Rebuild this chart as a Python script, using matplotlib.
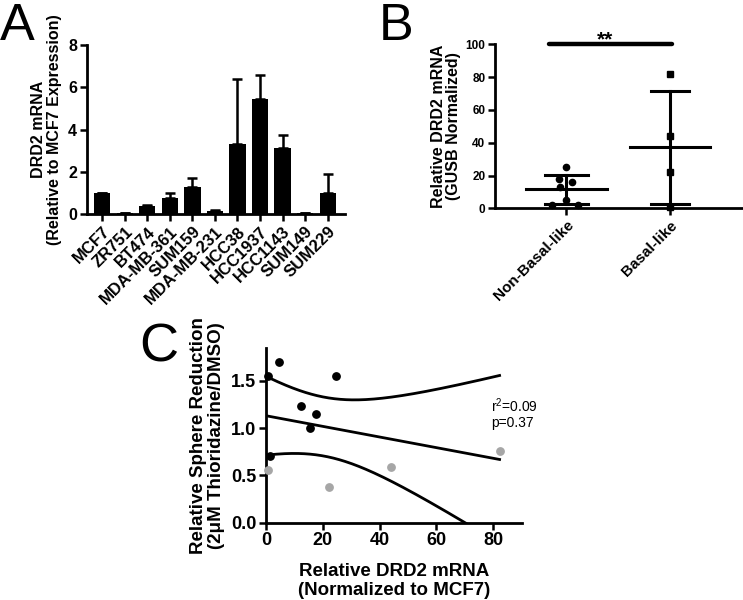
import numpy as np
import matplotlib
matplotlib.use("Agg")
from matplotlib import pyplot as plt

plt.rcParams['font.family'] = ['Liberation Sans', 'DejaVu Sans']
plt.rcParams['mathtext.fontset'] = 'custom'
plt.rcParams['mathtext.rm'] = 'Liberation Sans'
plt.rcParams['mathtext.it'] = 'Liberation Sans:italic'
plt.rcParams['mathtext.bf'] = 'Liberation Sans:bold'

# Panel A : DRD2 mRNA by cell line
cell_lines = ['MCF7', 'ZR751', 'BT474', 'MDA-MB-361', 'SUM159', 'MDA-MB-231',
              'HCC38', 'HCC1937', 'HCC1143', 'SUM149', 'SUM229']
expr_mean = [1.0, 0.05, 0.37, 0.76, 1.30, 0.15, 3.31, 5.43, 3.15, 0.05, 1.02]
expr_err = [0.0, 0.02, 0.06, 0.26, 0.43, 0.06, 3.07, 1.15, 0.60, 0.02, 0.87]

# Panel B : GUSB normalized DRD2 by subtype
groups = ['Non-Basal-like', 'Basal-like']
non_basal = [25, 18, 16, 13, 5, 2, 2]
basal = [82, 44, 22, 1]

# Panel C : sphere reduction vs DRD2
drd2_nonbasal = [0.8, 4.7, 24.6, 12.3, 17.5, 15.4, 1.4]
sphere_nonbasal = [1.55, 1.70, 1.55, 1.235, 1.15, 1.00, 0.706]
drd2_basal = [0.8, 22.3, 44.0, 82.2]
sphere_basal = [0.557, 0.374, 0.593, 0.762]
p_value = 0.37
t_crit = 2.262  # t(0.975, df=9)

fig = plt.figure(figsize=(7.43, 6.0), dpi=100)

def style_axes(ax, tick_size):
    for s in ['top', 'right']:
        ax.spines[s].set_visible(False)
    for s in ['left', 'bottom']:
        ax.spines[s].set_linewidth(2.0)
    ax.tick_params(width=1.8, length=5, labelsize=tick_size, pad=2)
    for lab in ax.get_xticklabels() + ax.get_yticklabels():
        lab.set_fontweight('bold')

# ---- A ----
axA = fig.add_axes([0.1167, 0.6428, 0.3476, 0.2822])
xa = np.arange(len(cell_lines))
axA.bar(xa, expr_mean, width=0.72, color='black')
axA.errorbar(xa, expr_mean, yerr=[np.zeros(len(xa)), expr_err], fmt='none',
             ecolor='black', elinewidth=1.8, capsize=3.6, capthick=1.8)
axA.set_xlim(-0.69, len(cell_lines) - 1 + 0.77)
axA.set_ylim(0, 8)
axA.set_yticks([0, 2, 4, 6, 8])
axA.set_xticks(xa)
axA.set_xticklabels(cell_lines, rotation=45, ha='right', rotation_mode='anchor')
style_axes(axA, 11.5)
for lab in axA.get_xticklabels():
    lab.set_fontsize(12)
axA.set_ylabel('DRD2 mRNA\n(Relative to MCF7 Expression)', fontsize=11.5,
               fontweight='bold', labelpad=4, linespacing=1.1)

# ---- B ----
axB = fig.add_axes([0.6662, 0.6528, 0.3318, 0.2732])
offs_nb = [0.0, -0.075, 0.05, -0.06, 0.0, -0.14, 0.11]
offs_b = [0.0, 0.0, 0.0, 0.0]
axB.plot(np.array(offs_nb), non_basal, 'o', color='black', ms=4.5, clip_on=False)
axB.plot(1 + np.array(offs_b), basal, 's', color='black', ms=4.5, clip_on=False)
for i, vals in enumerate([non_basal, basal]):
    m = np.mean(vals)
    sd = np.std(vals, ddof=1)
    cap = 0.21 if i == 0 else 0.18
    axB.plot([i - 0.39, i + 0.39], [m, m], color='black', lw=2.2, clip_on=False)
    axB.plot([i, i], [m - sd, m + sd], color='black', lw=2.2, clip_on=False)
    axB.plot([i - cap, i + cap], [m + sd, m + sd], color='black', lw=2.2, clip_on=False)
    axB.plot([i - cap, i + cap], [m - sd, m - sd], color='black', lw=2.2, clip_on=False)
axB.plot([-0.17, 1.02], [100, 100], color='black', lw=3.2, clip_on=False,
         solid_capstyle='round')
axB.text(0.37, 99.5, '**', ha='center', va='baseline', fontsize=15, fontweight='bold')
axB.set_xlim(-0.69, 1.69)
axB.set_ylim(0, 100)
axB.set_yticks([0, 20, 40, 60, 80, 100])
axB.set_xticks([0, 1])
axB.set_xticklabels(groups, rotation=45, ha='right', rotation_mode='anchor')
style_axes(axB, 8.5)
for lab in axB.get_xticklabels():
    lab.set_fontsize(11)
axB.set_ylabel('Relative DRD2 mRNA\n(GUSB Normalized)', fontsize=11.5,
               fontweight='bold', labelpad=3, linespacing=1.05)

# ---- C ----
axC = fig.add_axes([0.358, 0.1288, 0.3442, 0.2907])
xall = np.array(drd2_nonbasal + drd2_basal)
yall = np.array(sphere_nonbasal + sphere_basal)
n = len(xall)
slope, intercept = np.polyfit(xall, yall, 1)
xs = np.linspace(xall.min(), xall.max(), 200)
fit = slope * xs + intercept
resid = yall - (slope * xall + intercept)
s_err = np.sqrt(np.sum(resid ** 2) / (n - 2))
sxx = np.sum((xall - xall.mean()) ** 2)
band = t_crit * s_err * np.sqrt(1.0 / n + (xs - xall.mean()) ** 2 / sxx)
r2 = np.corrcoef(xall, yall)[0, 1] ** 2
axC.plot(xs, fit, color='black', lw=2.0)
axC.plot(xs, fit + band, color='black', lw=2.0)
axC.plot(xs, fit - band, color='black', lw=2.0)
axC.scatter(drd2_nonbasal, sphere_nonbasal, s=28, color='black', zorder=3, clip_on=False)
axC.scatter(drd2_basal, sphere_basal, s=28, color='#a6a6a6', zorder=3, clip_on=False)
axC.set_xlim(0, 90)
axC.set_ylim(0, 1.845)
axC.set_xticks([0, 20, 40, 60, 80])
axC.set_yticks([0.0, 0.5, 1.0, 1.5])
axC.set_yticklabels(['0.0', '0.5', '1.0', '1.5'])
style_axes(axC, 13)
axC.text(79.2, 1.16, 'r$^2$=%.2f\np=%.2f' % (r2, p_value), fontsize=10,
         ha='left', va='center', linespacing=1.15)
axC.set_xlabel('Relative DRD2 mRNA\n(Normalized to MCF7)', fontsize=13.5,
               fontweight='bold', labelpad=10, linespacing=1.1)
axC.set_ylabel('Relative Sphere Reduction\n(2\u03bcM Thioridazine/DMSO)', fontsize=13.5,
               fontweight='bold', labelpad=4, linespacing=1.1)

# panel letters
fig.text(0.0, 1 - 40 / 600, 'A', fontsize=37.5, ha='left', va='baseline')
fig.text(379 / 743, 1 - 40 / 600, 'B', fontsize=37.5, ha='left', va='baseline')
fig.text(139 / 743, 1 - 362 / 600, 'C', fontsize=39, ha='left', va='baseline')

fig.savefig('out.png', dpi=100)
